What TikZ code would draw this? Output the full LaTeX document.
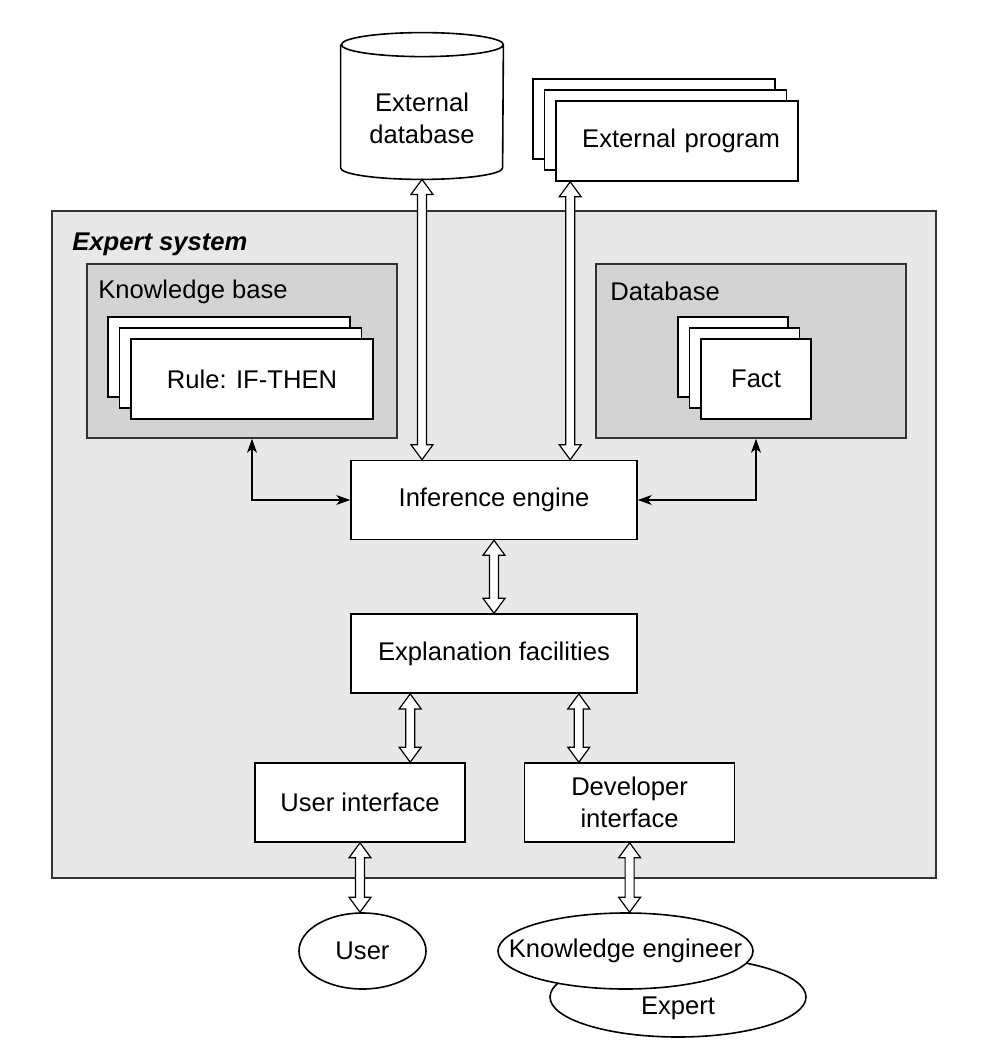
\documentclass[tikz,border=0pt]{standalone}
\usepackage{fontspec}
\setmainfont{Liberation Sans}
\usepackage{xcolor}
\usetikzlibrary{shapes.geometric,arrows.meta,positioning,shadows,calc}

\definecolor{sysgray}{HTML}{E8E8E8}
\definecolor{basegray}{HTML}{D3D3D3}
\newcommand{\diafont}{\fontsize{12.8pt}{16pt}\selectfont}
% hollow two-headed arrow, vertical, from #1 (top) to #2 (bottom)
\newcommand{\dblarrow}[2]{%
  \draw[hollow] let \p1=(#1), \p2=(#2) in
    (\x1,\y1) -- (\x1-5.5pt,\y1-7.5pt) -- (\x1-2.25pt,\y1-7.5pt) -- (\x1-2.25pt,\y2+7.5pt)
    -- (\x1-5.5pt,\y2+7.5pt) -- (\x1,\y2) -- (\x1+5.5pt,\y2+7.5pt) -- (\x1+2.25pt,\y2+7.5pt)
    -- (\x1+2.25pt,\y1-7.5pt) -- (\x1+5.5pt,\y1-7.5pt) -- cycle;}

\begin{document}
\begin{tikzpicture}[x=0.5pt, y=-0.5pt, font=\diafont,
    block/.style={rectangle, draw, fill=white, line width=0.8pt, align=center, minimum width=143pt, minimum height=39.5pt},
    panel/.style={rectangle, draw=black!80, line width=0.8pt},
    stack/.style={block, copy shadow={shadow xshift=-11.5pt, shadow yshift=11pt}, copy shadow={shadow xshift=-5.75pt, shadow yshift=5.5pt}},
    actor/.style={ellipse, draw, fill=white, line width=0.8pt, inner sep=0pt, minimum height=38pt},
    link/.style={{Stealth[length=7pt,width=5pt,inset=2pt]}-{Stealth[length=7pt,width=5pt,inset=2pt]}, line width=0.6pt},
    hollow/.style={draw, fill=white, line width=0.6pt}]
    \useasboundingbox (0,0) rectangle (987,1050);

    % expert system and its two stores
    \node[panel, fill=sysgray, minimum width=442pt, minimum height=333.5pt] (es) at (494,544.5) {};
    \node[panel, fill=basegray, minimum width=155pt, minimum height=87pt] (kb) at (242,351) {};
    \node[panel, fill=basegray, minimum width=155pt, minimum height=87pt] (db) at (751,351) {};
    \node[anchor=base west, inner sep=0pt, font=\diafont\bfseries\itshape] (estitle) at (72,250) {Expert system};
    \node[anchor=base west, inner sep=0pt] (kbtitle) at (98,298) {Knowledge base};
    \node[anchor=base west, inner sep=0pt] (dbtitle) at (610,300) {Database};
    \node[stack, minimum width=121pt, minimum height=40pt] (rule) at (252,379) {Rule: IF-THEN};
    \node[stack, minimum width=55pt, minimum height=40pt] (fact) at (756,379) {Fact};

    % outside the system
    \node[stack, minimum width=121pt, minimum height=40pt, text width=103pt, align=right] (extprog) at (677,141) {External program};
    \node[minimum width=81pt, minimum height=61pt, align=center] (extdb) at (422,118) {External\\database};
    \draw[line width=0.8pt] ([yshift=6pt]extdb.north west) -- ([yshift=5.75pt]extdb.south west)
        arc[start angle=180, end angle=360, x radius=40.5pt, y radius=5.75pt]
        -- ([yshift=6pt]extdb.north east) arc[start angle=0, end angle=360, x radius=40.5pt, y radius=6pt];

    \node[block] (infer) at (494,500) {Inference engine};
    \node[block, below=36.5pt of infer] (expl) {Explanation facilities};
    \node[block, minimum width=105pt] (ui) at (360,802.5) {User interface};
    \node[block, minimum width=105pt, right=29pt of ui] (dev) {Developer\\interface};

    \node[actor, minimum width=63.5pt] (user) at (362.5,951) {User};
    \node[actor, minimum width=128pt, minimum height=40pt, label={[yshift=-5.5pt]center:Expert}] (expert) at (678,997) {};
    \node[actor, minimum width=127.5pt] (ke) at (625.5,951) {\makebox[0pt]{Knowledge engineer}};

    % connectors
    \coordinate (progport) at ([xshift=7.5pt]extprog.south west);
    \coordinate (uiport) at ([xshift=30pt]expl.south west);
    \coordinate (devport) at ([xshift=-29.5pt]expl.south east);
    \dblarrow{extdb.south}{extdb.south |- infer.north}
    \dblarrow{progport}{progport |- infer.north}
    \dblarrow{infer.south}{expl.north}
    \dblarrow{uiport}{uiport |- ui.north}
    \dblarrow{devport}{devport |- dev.north}
    \dblarrow{ui.south}{ui.south |- user.north}
    \dblarrow{dev.south}{dev.south |- ke.north}

    \draw[link] (kb.south -| rule) |- (infer);
    \draw[link] (infer) -| (db.south -| fact);

\end{tikzpicture}
\end{document}
